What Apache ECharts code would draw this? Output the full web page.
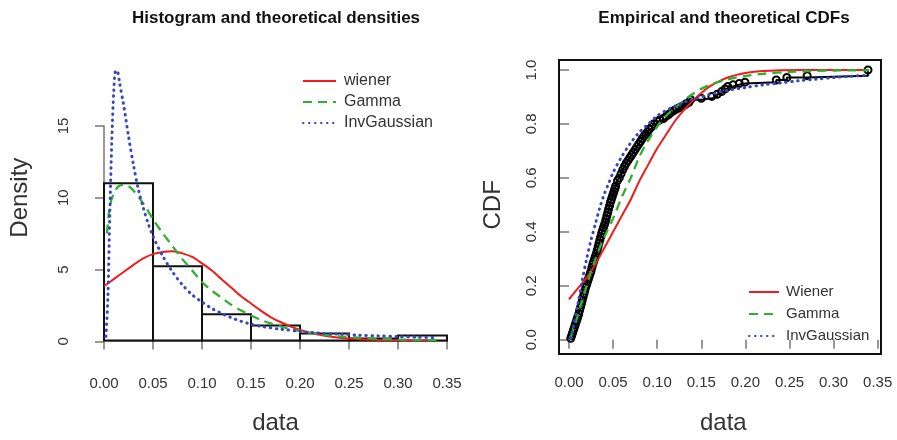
<!DOCTYPE html>
<html><head><meta charset="utf-8">
<script src="https://cdn.jsdelivr.net/npm/echarts@6/dist/echarts.min.js"></script>
<style>html,body{margin:0;padding:0;background:#fff}#c{width:897px;height:440px}</style>
</head><body><div id="c"></div>
<script>
// ---------- DATA ----------
const xTicks = [0, 0.05, 0.10, 0.15, 0.20, 0.25, 0.30, 0.35];
const binEdges = [0, 0.05, 0.10, 0.15, 0.20, 0.25, 0.30, 0.35];
const histDensity = [11.0, 5.2, 1.85, 1.05, 0.5, 0.15, 0.35];

const wienerDensX = [0, 0.01, 0.02, 0.03, 0.04, 0.05, 0.06, 0.07, 0.08, 0.09, 0.10, 0.11, 0.12, 0.13, 0.14, 0.15, 0.16, 0.17, 0.18, 0.19, 0.20, 0.21, 0.22, 0.23, 0.24, 0.25, 0.26, 0.28, 0.30, 0.33];
const wienerDensY = [3.8, 4.3, 4.8, 5.3, 5.75, 6.05, 6.2, 6.25, 6.1, 5.85, 5.4, 4.9, 4.3, 3.7, 3.1, 2.6, 2.1, 1.65, 1.3, 1.0, 0.75, 0.55, 0.4, 0.28, 0.2, 0.14, 0.1, 0.05, 0.02, 0.0];

const gammaDensX = [0.003, 0.006, 0.01, 0.015, 0.02, 0.025, 0.03, 0.04, 0.05, 0.06, 0.07, 0.08, 0.09, 0.10, 0.11, 0.12, 0.13, 0.14, 0.15, 0.16, 0.17, 0.18, 0.19, 0.20, 0.22, 0.24, 0.26, 0.28, 0.30, 0.32, 0.34];
const gammaDensY = [7.5, 9.4, 10.3, 10.8, 10.9, 10.8, 10.5, 9.6, 8.5, 7.5, 6.6, 5.7, 4.9, 4.1, 3.5, 3.0, 2.5, 2.1, 1.75, 1.45, 1.2, 1.0, 0.8, 0.67, 0.45, 0.3, 0.2, 0.13, 0.08, 0.05, 0.03];

const invGaussDensX = [0.002, 0.004, 0.006, 0.008, 0.01, 0.012, 0.014, 0.016, 0.02, 0.025, 0.03, 0.035, 0.04, 0.045, 0.05, 0.06, 0.07, 0.08, 0.09, 0.10, 0.11, 0.12, 0.13, 0.14, 0.15, 0.16, 0.18, 0.20, 0.22, 0.24, 0.26, 0.28, 0.30, 0.32, 0.34];
const invGaussDensY = [0.3, 3, 9, 14, 17.5, 18.9, 18.8, 18.0, 16.5, 14.3, 12.3, 10.6, 9.3, 8.2, 7.3, 5.9, 4.8, 3.9, 3.2, 2.7, 2.25, 1.9, 1.6, 1.35, 1.15, 1.0, 0.8, 0.65, 0.52, 0.45, 0.38, 0.33, 0.28, 0.24, 0.2];

const ecdfX = [0.002, 0.003, 0.004, 0.005, 0.006, 0.007, 0.008, 0.009, 0.010, 0.011, 0.012, 0.013, 0.014, 0.015, 0.016, 0.017, 0.018, 0.019, 0.020, 0.021, 0.022, 0.023, 0.024, 0.025, 0.026, 0.027, 0.028, 0.029, 0.030, 0.031, 0.032, 0.033, 0.034, 0.035, 0.036, 0.037, 0.038, 0.039, 0.040, 0.041, 0.042, 0.043, 0.044, 0.045, 0.046, 0.047, 0.048, 0.049, 0.050, 0.051, 0.052, 0.053, 0.055, 0.057, 0.059, 0.061, 0.063, 0.065, 0.067, 0.069, 0.071, 0.073, 0.075, 0.077, 0.079, 0.081, 0.083, 0.085, 0.087, 0.089, 0.091, 0.094, 0.096, 0.100, 0.103, 0.107, 0.110, 0.113, 0.116, 0.119, 0.122, 0.125, 0.128, 0.131, 0.133, 0.136, 0.138, 0.150, 0.162, 0.168, 0.173, 0.177, 0.180, 0.186, 0.193, 0.1995, 0.235, 0.247, 0.270, 0.339];
const ecdfY = [0.005, 0.015, 0.025, 0.035, 0.045, 0.055, 0.065, 0.075, 0.085, 0.095, 0.108, 0.12, 0.132, 0.145, 0.158, 0.17, 0.182, 0.195, 0.205, 0.215, 0.225, 0.235, 0.245, 0.255, 0.268, 0.28, 0.29, 0.30, 0.31, 0.32, 0.332, 0.345, 0.358, 0.37, 0.382, 0.395, 0.405, 0.415, 0.425, 0.435, 0.447, 0.46, 0.472, 0.485, 0.497, 0.51, 0.52, 0.53, 0.54, 0.55, 0.56, 0.57, 0.59, 0.60, 0.615, 0.63, 0.643, 0.655, 0.665, 0.675, 0.685, 0.695, 0.705, 0.715, 0.725, 0.735, 0.745, 0.755, 0.762, 0.77, 0.78, 0.79, 0.80, 0.81, 0.815, 0.82, 0.828, 0.835, 0.843, 0.85, 0.855, 0.86, 0.865, 0.87, 0.875, 0.88, 0.89, 0.895, 0.902, 0.91, 0.92, 0.93, 0.939, 0.945, 0.95, 0.955, 0.963, 0.972, 0.979, 1.0];

const wienerCdfX = [0, 0.01, 0.02, 0.03, 0.04, 0.05, 0.06, 0.07, 0.08, 0.09, 0.10, 0.11, 0.12, 0.13, 0.14, 0.15, 0.16, 0.17, 0.18, 0.19, 0.20, 0.22, 0.24, 0.26, 0.34];
const wienerCdfY = [0.15, 0.19, 0.23, 0.28, 0.34, 0.40, 0.46, 0.52, 0.59, 0.65, 0.71, 0.76, 0.81, 0.85, 0.885, 0.915, 0.94, 0.958, 0.972, 0.982, 0.989, 0.996, 0.999, 1.0, 1.0];

const gammaCdfX = [0.002, 0.005, 0.01, 0.02, 0.03, 0.04, 0.05, 0.06, 0.07, 0.08, 0.09, 0.10, 0.11, 0.12, 0.13, 0.14, 0.15, 0.16, 0.18, 0.20, 0.22, 0.25, 0.30, 0.34];
const gammaCdfY = [0.01, 0.04, 0.09, 0.2, 0.3, 0.38, 0.45, 0.53, 0.6, 0.68, 0.74, 0.79, 0.83, 0.86, 0.885, 0.91, 0.93, 0.945, 0.965, 0.978, 0.986, 0.993, 0.998, 0.999];

const invGaussCdfX = [0.002, 0.003, 0.005, 0.01, 0.015, 0.02, 0.025, 0.03, 0.035, 0.04, 0.045, 0.05, 0.06, 0.07, 0.08, 0.09, 0.10, 0.11, 0.12, 0.13, 0.14, 0.15, 0.16, 0.18, 0.20, 0.22, 0.24, 0.26, 0.28, 0.30, 0.32, 0.34];
const invGaussCdfY = [0.005, 0.02, 0.05, 0.13, 0.22, 0.3, 0.37, 0.43, 0.49, 0.54, 0.58, 0.62, 0.68, 0.73, 0.77, 0.80, 0.83, 0.85, 0.865, 0.88, 0.89, 0.90, 0.91, 0.925, 0.935, 0.945, 0.952, 0.96, 0.966, 0.972, 0.977, 0.981];

// ---------- STYLE ----------
const FONT = 'Liberation Sans, Arial, sans-serif';
const RED = '#f21a1a', GREEN = '#30b030', BLUE = '#3646c0';
const AX = '#777', TXT = '#333';
const zip = (xs, ys) => xs.map((x, i) => [x, ys[i]]);

const chart = echarts.init(document.getElementById('c'), null, {renderer: 'canvas'});

const xAxisBase = (gridIndex, offset, nameGap) => ({
  type: 'value', gridIndex, min: 0, max: 0.35, interval: 0.05, offset,
  axisLine: {show: true, lineStyle: {color: AX, width: 1.5}},
  axisTick: {show: true, length: 9, lineStyle: {color: AX, width: 1.5}},
  axisLabel: {fontFamily: FONT, fontSize: 15, color: TXT, margin: 24, formatter: v => v.toFixed(2)},
  splitLine: {show: false},
  name: 'data', nameLocation: 'middle', nameGap,
  nameTextStyle: {fontFamily: FONT, fontSize: 24, color: TXT}
});

const densityLine = (name, xs, ys, color, type, xi, yi) => ({
  type: 'line', name, xAxisIndex: xi, yAxisIndex: yi, data: zip(xs, ys),
  symbol: 'none', smooth: 0.3, z: 3,
  lineStyle: {color, width: type === 'dotted' ? 3 : (type === 'dashed' ? 2.3 : 2),
    type: type === 'solid' ? 'solid' : (type === 'dashed' ? [9, 6] : [0.5, 5.5]), cap: type === 'dotted' ? 'round' : 'butt'},
  itemStyle: {color}
});

const legendBase = {
  orient: 'vertical', itemHeight: 14,
  itemStyle: {opacity: 0, borderWidth: 0}
};

const option = {
  animation: false,
  backgroundColor: '#fff',
  title: [
    {text: 'Histogram and theoretical densities', left: 271, top: 5, textAlign: 'center',
      textStyle: {fontFamily: FONT, fontSize: 17, fontWeight: 'bold', color: '#111'}},
    {text: 'Empirical and theoretical CDFs', left: 719, top: 5, textAlign: 'center',
      textStyle: {fontFamily: FONT, fontSize: 17, fontWeight: 'bold', color: '#111'}}
  ],
  grid: [
    {left: 104, right: 450, top: 54.7, bottom: 98.7},          // 0: density data
    {left: 104, right: 450, top: 126, bottom: 98.7},           // 1: density y-axis (0..15)
    {left: 559, right: 16, top: 60, bottom: 86, show: true, borderColor: '#111', borderWidth: 2, backgroundColor: 'transparent'}, // 2: box
    {left: 569, right: 19.3, top: 70, bottom: 97.3}            // 3: CDF data
  ],
  xAxis: [
    xAxisBase(0, 11.4, 59),
    {type: 'value', gridIndex: 1, min: 0, max: 1, show: false},
    {type: 'value', gridIndex: 2, min: 0, max: 1, show: false},
    Object.assign(xAxisBase(3, 11.3, 60), {axisLine: {show: false}})
  ],
  yAxis: [
    {type: 'value', gridIndex: 0, min: 0, max: 20, axisLine: {show: false}, axisTick: {show: false},
      axisLabel: {show: false}, splitLine: {show: false},
      name: 'Density', nameLocation: 'middle', nameGap: 72, nameRotate: 90,
      nameTextStyle: {fontFamily: FONT, fontSize: 24, color: TXT}},
    {type: 'value', gridIndex: 1, min: 0, max: 15, interval: 5, offset: 11,
      axisLine: {show: true, lineStyle: {color: AX, width: 1.5}},
      axisTick: {show: true, length: 9, lineStyle: {color: AX, width: 1.5}},
      axisLabel: {fontFamily: FONT, fontSize: 15, color: TXT, rotate: 90, margin: 22},
      splitLine: {show: false}},
    {type: 'value', gridIndex: 2, min: 0, max: 1, show: false},
    {type: 'value', gridIndex: 3, min: 0, max: 1, interval: 0.2, offset: 10,
      axisLine: {show: false},
      axisTick: {show: true, length: 9, lineStyle: {color: AX, width: 1.5}},
      axisLabel: {fontFamily: FONT, fontSize: 15, color: TXT, rotate: 90, margin: 20, formatter: v => v.toFixed(1)},
      splitLine: {show: false},
      name: 'CDF', nameLocation: 'middle', nameGap: 54, nameRotate: 90,
      nameTextStyle: {fontFamily: FONT, fontSize: 24, color: TXT}}
  ],
  legend: [
    Object.assign({}, legendBase, {left: 297, top: 68, itemWidth: 33, itemGap: 5,
      data: ['wiener', 'Gamma', 'InvGaussian'],
      textStyle: {fontFamily: FONT, fontSize: 16, color: TXT, lineHeight: 16, padding: [0, 0, 0, 3]}}),
    Object.assign({}, legendBase, {left: 743, top: 279, itemWidth: 30, itemGap: 6,
      data: ['Wiener', 'Gamma', 'InvGaussian'],
      textStyle: {fontFamily: FONT, fontSize: 15, color: TXT, lineHeight: 16, padding: [0, 0, 0, 2]}})
  ],
  series: [
    {type: 'custom', name: 'hist', xAxisIndex: 0, yAxisIndex: 0,
      data: histDensity.map((h, i) => [binEdges[i], binEdges[i + 1], h]),
      encode: {x: [0, 1], y: 2}, z: 2,
      renderItem: (params, api) => {
        const p0 = api.coord([api.value(0), api.value(2)]);
        const p1 = api.coord([api.value(1), 0]);
        return {type: 'rect', shape: {x: p0[0], y: p0[1], width: p1[0] - p0[0], height: p1[1] - p0[1]},
          style: {fill: 'none', stroke: '#111', lineWidth: 2}};
      }},
    densityLine('wiener', wienerDensX, wienerDensY, RED, 'solid', 0, 0),
    densityLine('Gamma', gammaDensX, gammaDensY, GREEN, 'dashed', 0, 0),
    densityLine('InvGaussian', invGaussDensX, invGaussDensY, BLUE, 'dotted', 0, 0),
    {type: 'line', name: 'ecdf', xAxisIndex: 3, yAxisIndex: 3, data: zip(ecdfX, ecdfY),
      step: 'end', symbol: 'circle', symbolSize: 7, showSymbol: true, showAllSymbol: true, z: 2,
      lineStyle: {color: '#000', width: 2}, itemStyle: {color: 'rgba(0,0,0,0)', borderColor: '#000', borderWidth: 2}},
    densityLine('Wiener', wienerCdfX, wienerCdfY, RED, 'solid', 3, 3),
    densityLine('Gamma', gammaCdfX, gammaCdfY, GREEN, 'dashed', 3, 3),
    densityLine('InvGaussian', invGaussCdfX, invGaussCdfY, BLUE, 'dotted', 3, 3)
  ]
};
chart.setOption(option);
</script></body></html>
